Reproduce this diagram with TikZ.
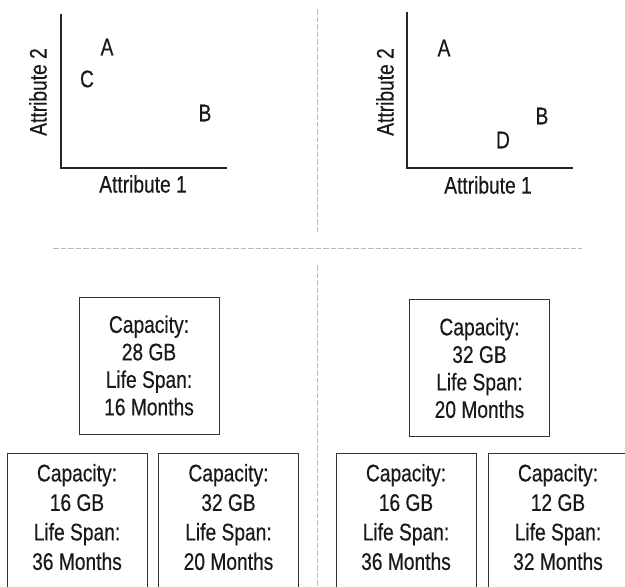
\documentclass[tikz,border=0pt]{standalone}
\usepackage{fontspec}
\setmainfont{Liberation Sans}[FakeStretch=0.8, FakeBold=0.4]
\begin{document}
\begin{tikzpicture}[
    x=1pt, y=-1pt,
    axis/.style={line width=1.2pt, black!85},
    axlabel/.style={font=\fontsize{24}{28}\selectfont, text=black!90},
    pointlabel/.style={font=\fontsize{24}{28}\selectfont, text=black!90},
    divider/.style={gray!55, line width=1pt, dash pattern=on 5.5pt off 2pt},
    specbox/.style={rectangle, draw=black!80, line width=0.9pt, minimum width=140pt, minimum height=137pt, align=center, font=\fontsize{24}{27.5}\selectfont, text=black!90},
    lowbox/.style={specbox, anchor=north, font=\fontsize{24}{29.5}\selectfont, text depth=10pt}
]
\clip (0,0) rectangle (625,587);

% === ATTRIBUTE SPACE (left) ===
\coordinate (lorig) at (61,168);
\draw[axis] (61,14) -- (lorig) -- (227,168);
\node[axlabel] (lxlab) at (143,184) {Attribute 1};
\node[axlabel, rotate=90] (lylab) at (38,92) {Attribute 2};
\node[pointlabel] (lA) at (107,47) {A};
\node[pointlabel] (lC) at (87,79) {C};
\node[pointlabel] (lB) at (205,113) {B};

% === ATTRIBUTE SPACE (right) ===
\coordinate (rorig) at (407,168);
\draw[axis] (407,12) -- (rorig) -- (573,168);
\node[axlabel] (rxlab) at (488,185) {Attribute 1};
\node[axlabel, rotate=90] (rylab) at (385,92) {Attribute 2};
\node[pointlabel] (rA) at (444,48) {A};
\node[pointlabel] (rB) at (542,116) {B};
\node[pointlabel] (rD) at (503,140) {D};

% Dividers
\draw[divider] (317,9) -- (317,233);
\draw[divider] (53,248) -- (582,248);
\draw[divider] (317,265) -- (317,587);

% === DRIVES (left) ===
\node[specbox] (topL) at (149,365.5) {Capacity:\\28 GB\\Life Span:\\16 Months};
\node[lowbox] (lowLa) at (77,453) {Capacity:\\16 GB\\Life Span:\\36 Months};
\node[lowbox] (lowLb) at (228.5,453) {Capacity:\\32 GB\\Life Span:\\20 Months};

% === DRIVES (right) ===
\node[specbox] (topR) at (479.5,368) {Capacity:\\32 GB\\Life Span:\\20 Months};
\node[lowbox] (lowRa) at (406,453) {Capacity:\\16 GB\\Life Span:\\36 Months};
\node[lowbox] (lowRb) at (558,453) {Capacity:\\12 GB\\Life Span:\\32 Months};

\end{tikzpicture}
\end{document}
